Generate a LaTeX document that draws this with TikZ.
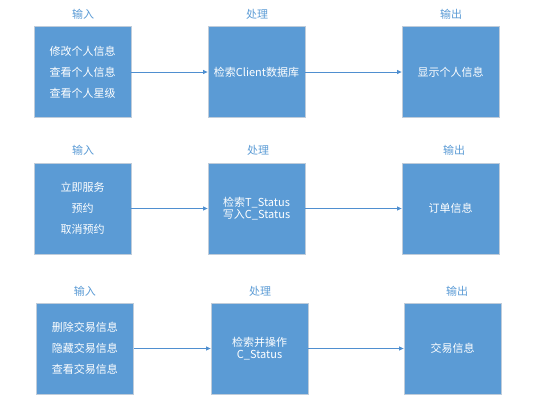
\documentclass[tikz,border=0pt]{standalone}
\usepackage{fontspec}
\setmainfont{Noto Sans CJK SC}
\usetikzlibrary{arrows.meta}
\definecolor{boxblue}{HTML}{5B9BD5}
\definecolor{edgegray}{HTML}{BFCCDA}
\definecolor{lineblue}{HTML}{4F8FD0}
\tikzset{
  blk/.style={draw=edgegray, line width=0.8pt, fill=boxblue, minimum width=97pt, minimum height=91pt, inner sep=0pt, text=white, font=\fontsize{11}{21}\selectfont, align=center},
  tight/.style={font=\fontsize{11}{12}\selectfont},
  hdr/.style={text=boxblue, font=\fontsize{11}{12}\selectfont, inner sep=0pt},
  conn/.style={draw=lineblue, line width=0.8pt, -{Triangle[length=4.5pt,width=4pt]}}
}
\begin{document}
\begin{tikzpicture}[x=1pt,y=-1pt]
\useasboundingbox (0,0) rectangle (539,413);
% row 1
\node[hdr] (h11) at (83,14) {输入};
\node[hdr] (h12) at (257,14) {处理};
\node[hdr] (h13) at (451,14) {输出};
\node[blk] (a1) at (82.5,72) {修改个人信息\\查看个人信息\\查看个人星级};
\node[blk] (b1) at (256.5,72) {检索Client数据库};
\node[blk] (c1) at (450.5,72) {显示个人信息};
\draw[conn] (a1) -- (b1);
\draw[conn] (b1) -- (c1);
% row 2
\node[hdr] (h21) at (83,150) {输入};
\node[hdr] (h22) at (258,150) {处理};
\node[hdr] (h23) at (454,150) {输出};
\node[blk] (a2) at (82.5,208.5) {立即服务\\预约\\取消预约};
\node[blk, tight] (b2) at (256.5,208.5) {检索T\_Status\\写入C\_Status};
\node[blk] (c2) at (450.5,208.5) {订单信息};
\draw[conn] (a2) -- (b2);
\draw[conn] (b2) -- (c2);
% row 3
\node[hdr] (h31) at (85,291) {输入};
\node[hdr] (h32) at (260,291) {处理};
\node[hdr] (h33) at (457,291) {输出};
\node[blk] (a3) at (85,348.5) {删除交易信息\\隐藏交易信息\\查看交易信息};
\node[blk, tight] (b3) at (259.5,348.5) {检索并操作\\C\_Status};
\node[blk] (c3) at (452.5,348.5) {交易信息};
\draw[conn] (a3) -- (b3);
\draw[conn] (b3) -- (c3);
\end{tikzpicture}
\end{document}
